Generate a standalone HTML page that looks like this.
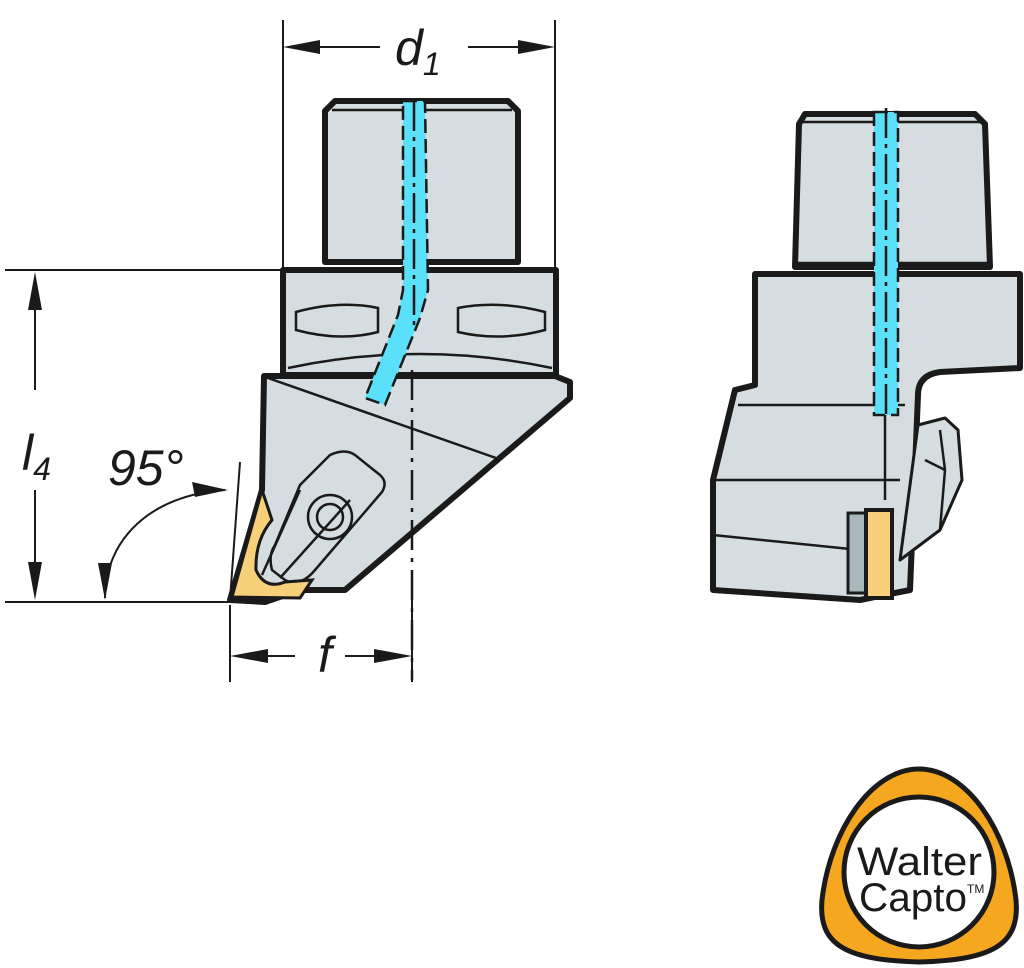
<!DOCTYPE html>
<html><head><style>body{margin:0;background:#fff}svg{display:block}</style></head><body>
<svg width="1024" height="968" viewBox="0 0 1024 968" xmlns="http://www.w3.org/2000/svg" font-family="Liberation Sans, sans-serif">
<g stroke="#1a1a1a" fill="none">
<line x1="283" y1="20" x2="283" y2="270" stroke-width="2"/>
<line x1="555" y1="20" x2="555" y2="270" stroke-width="2"/>
<line x1="290" y1="47" x2="380" y2="47" stroke-width="2"/>
<line x1="468" y1="47" x2="548" y2="47" stroke-width="2"/>
<line x1="5" y1="270" x2="283" y2="270" stroke-width="2"/>
<line x1="5" y1="602" x2="232" y2="602" stroke-width="2"/>
<line x1="35" y1="278" x2="35" y2="390" stroke-width="2"/>
<line x1="35" y1="490" x2="35" y2="595" stroke-width="2"/>
<line x1="230" y1="605" x2="230" y2="682" stroke-width="2"/>
<line x1="412" y1="600" x2="412" y2="682" stroke-width="2"/>
<line x1="237" y1="656" x2="295" y2="656" stroke-width="2"/>
<line x1="345" y1="656" x2="405" y2="656" stroke-width="2"/>
<line x1="240" y1="462" x2="230" y2="600" stroke-width="2"/>
<path d="M105 598 C105 540 150 495 225 490" stroke-width="2"/>
</g>
<g fill="#1a1a1a">
<polygon points="283,47 320,40 320,54"/><polygon points="555,47 518,40 518,54"/>
<polygon points="35,272 28,310 42,310"/><polygon points="35,600 28,562 42,562"/>
<polygon points="230,656 268,649 268,663"/><polygon points="412,656 374,649 374,663"/>
<polygon points="228,490 192,482 195,497"/><polygon points="105,600 98,563 112,563"/>
</g>
<g font-style="italic" font-size="50" fill="#1a1a1a">
<text x="395" y="65">d<tspan font-size="32" dy="10">1</tspan></text>
<text x="22" y="470">l<tspan font-size="32" dy="10">4</tspan></text>
<text x="318" y="672">f</text>
<text x="108" y="485">95°</text>
</g>

<!-- LEFT VIEW -->
<g stroke="#1a1a1a" stroke-width="6" fill="#d5dde0" stroke-linejoin="round">
<path d="M335 101 L508 101 L518 111 L518 262 L325 262 L325 111 Z"/>
<path d="M283 270 L556 270 L556 375 L283 375 Z"/>
<path d="M264 376 L555 376 L570 382 L570 398 L345 590 L300 590 L265 602 L230 600 L262 490 Z"/>
</g>
<g stroke="#1a1a1a" stroke-width="2.5" fill="none">
<line x1="330" y1="262" x2="515" y2="262"/>
<line x1="332" y1="110" x2="512" y2="110"/>
<path d="M288 368 Q420 340 552 368"/>
<path d="M268 378 L496 458"/>
<path d="M296 312 Q340 300 378 308 L378 332 Q340 342 296 330 Z"/>
<path d="M458 308 Q500 300 545 312 L545 330 Q500 342 458 332 Z"/>
<path d="M300 485 L330 455 Q345 448 355 455 L380 475 Q388 482 382 492 L315 570 Q300 588 285 580 L272 570 Q268 555 275 545 Z"/>
<circle cx="330" cy="517" r="22"/><circle cx="330" cy="517" r="13"/>
<path d="M262 575 L300 490 M280 578 L350 500"/>
</g>
<path d="M262 490 L232 597 L300 598 L312 580 L285 582 Q265 590 256 570 Q255 540 272 520 Z" fill="#f8d07a" stroke="#1a1a1a" stroke-width="3"/>
<path d="M412 370 L412 680" stroke="#1a1a1a" stroke-width="2.5" stroke-dasharray="30 8 4 8"/>
<path d="M403 101 L425 101 L428 290 L420 318 L385 405 L365 398 L398 315 L403 290 Z" fill="#5ae0f8" stroke="#1a1a1a" stroke-width="2.5" stroke-dasharray="14 6"/>
<line x1="414" y1="101" x2="414" y2="330" stroke="#1a1a1a" stroke-width="2.5" stroke-dasharray="30 6 4 6"/>

<!-- RIGHT VIEW -->
<g stroke="#1a1a1a" stroke-width="6" fill="#d5dde0" stroke-linejoin="round">
<path d="M805 114 L975 114 L985 124 L990 267 L795 267 L799 124 Z"/>
<path d="M755 274 L1020 274 L1020 368 L940 372 Q918 375 918 395 L910 590 L860 600 L713 590 L713 480 L735 390 L755 385 Z"/>
<path d="M918 425 L945 418 L958 430 L962 480 L940 530 L900 560 Z" stroke-width="3"/>
</g>
<g stroke="#1a1a1a" stroke-width="2.5" fill="none">
<line x1="800" y1="122" x2="980" y2="122"/><line x1="797" y1="263" x2="988" y2="263"/>
<line x1="738" y1="405" x2="905" y2="405"/><line x1="713" y1="480" x2="900" y2="480"/>
<line x1="713" y1="535" x2="860" y2="550"/><line x1="885" y1="395" x2="885" y2="500"/>
<path d="M925 460 L945 470 L940 530 M940 430 L945 470"/>
</g>
<rect x="848" y="513" width="20" height="80" fill="#a8b8bc" stroke="#1a1a1a" stroke-width="3"/>
<rect x="866" y="510" width="26" height="88" fill="#f8d07a" stroke="#1a1a1a" stroke-width="4"/>
<rect x="874" y="112" width="24" height="303" fill="#5ae0f8" stroke="#1a1a1a" stroke-width="2.5" stroke-dasharray="14 6"/>
<line x1="886" y1="108" x2="886" y2="415" stroke="#1a1a1a" stroke-width="2.5" stroke-dasharray="30 6 4 6"/>

<!-- LOGO -->
<path d="M919 769 C966 769 1008 830 1016 900 C1020 945 992 960 919 962 C846 960 818 945 822 900 C830 830 872 769 919 769 Z" fill="#f5a81f" stroke="#1a1a1a" stroke-width="5"/>
<circle cx="919" cy="872" r="75" fill="#fff" stroke="#1a1a1a" stroke-width="5"/>
<text x="857" y="875" font-size="40" textLength="125" lengthAdjust="spacingAndGlyphs" fill="#1a1a1a">Walter</text>
<text x="859" y="911" font-size="40" textLength="108" lengthAdjust="spacingAndGlyphs" fill="#1a1a1a">Capto</text>
<text x="967" y="893" font-size="12" fill="#1a1a1a">TM</text>
</svg>
</body></html>
